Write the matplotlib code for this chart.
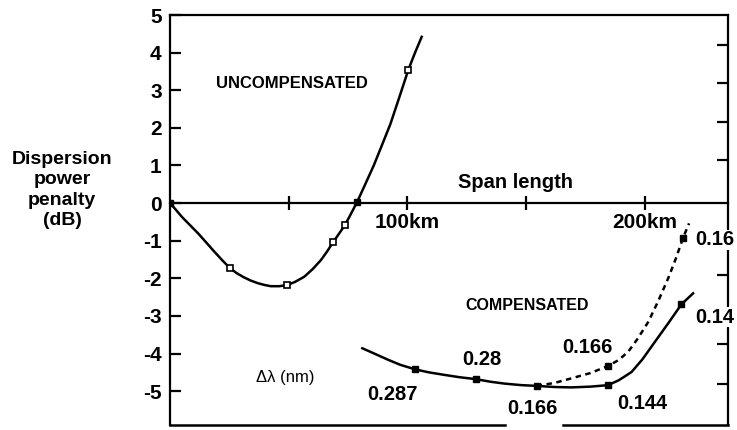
import matplotlib
matplotlib.use("Agg")
import matplotlib.pyplot as plt

plt.rcParams['font.family'] = ['Liberation Sans', 'DejaVu Sans']

# uncompensated curve (km, dB)
unc_x = [0, 2.5, 4.9, 8, 11.9, 15, 18.5, 22, 25.1, 28, 31, 34, 37, 40, 42.5, 46, 49.2, 52.5,
         56.5, 60, 63.5, 66, 68.8, 71, 73.6, 76, 78.8, 82, 85.8, 89, 92.8, 96.5, 100.4, 103.2, 106]
unc_y = [0, -0.18, -0.36, -0.56, -0.81, -1.03, -1.28, -1.52, -1.72, -1.86, -1.97, -2.06, -2.13,
         -2.18, -2.21, -2.21, -2.18, -2.1, -1.96, -1.76, -1.52, -1.3, -1.03, -0.83, -0.59, -0.31,
         0.03, 0.47, 1.0, 1.5, 2.1, 2.8, 3.55, 4.0, 4.42]
# measured points
unc_px = [25.1, 49.2, 68.8, 73.6, 100.4]
unc_py = [-1.72, -2.18, -1.03, -0.59, 3.55]
unc_fx = [0, 78.8]
unc_fy = [0, 0.03]

# compensated, solid
cs_x = [81, 86, 92, 97, 103.2, 109, 115.8, 122, 128.7, 135, 141, 148, 154.4, 162, 169, 177,
        184.5, 189, 194.4, 199, 204.2, 210, 215.4, 220.3]
cs_y = [-3.86, -4.0, -4.17, -4.3, -4.42, -4.5, -4.57, -4.63, -4.68, -4.75, -4.8, -4.84, -4.86,
        -4.89, -4.9, -4.88, -4.84, -4.71, -4.49, -4.15, -3.69, -3.18, -2.69, -2.4]
cs_px = [103.2, 128.7, 154.4, 184.5, 215.4]
cs_py = [-4.42, -4.68, -4.86, -4.84, -2.69]

# compensated, dashed
cd_x = [154.4, 162, 169, 177, 184.5, 189, 193, 197, 201.4, 205.5, 209.8, 213, 216.1, 218.6]
cd_y = [-4.86, -4.78, -4.66, -4.52, -4.33, -4.17, -3.95, -3.6, -3.16, -2.62, -2.0, -1.48,
        -0.92, -0.54]
cd_px = [184.5, 216.1]
cd_py = [-4.33, -0.92]

# delta-lambda labels
dl_text = ['0.287', '0.28', '0.166', '0.166', '0.144']
dl_x = [93.9, 131.4, 152.8, 176, 198.7]
dl_y = [-5.08, -4.15, -5.45, -3.83, -5.32]
edge_text = ['0.16', '0.14']
edge_y = [-0.98, -3.03]

yticks = [5, 4, 3, 2, 1, 0, -1, -2, -3, -4, -5]
right_ticks = [4.2, 3.2, 2.15, 1.15, -1.9, -3.75, -4.8]
xticks = [50, 100, 150, 200]
xlabels = ['', '100km', '', '200km']

fig = plt.figure(figsize=(7.37, 4.30), dpi=100)
ax = fig.add_axes([0.2307, 0.0116, 0.7571, 0.9535])
ax.set_xlim(0, 235)
ax.set_ylim(-5.9, 5)

lw = 1.8
ax.plot(unc_x, unc_y, color='black', lw=lw)
ax.plot(unc_px, unc_py, 's', ms=4.5, mfc='white', mec='black', mew=1.2)
ax.plot(unc_fx, unc_fy, 's', ms=5, color='black')
ax.plot(cs_x, cs_y, color='black', lw=lw)
ax.plot(cd_x, cd_y, color='black', lw=lw, ls=(0, (2.2, 1.8)))
ax.plot(cs_px, cs_py, 's', ms=5, color='black')
ax.plot(cd_px, cd_py, 's', ms=5, color='black')

# spines: bottom axis sits on zero
for s in ['left', 'right', 'top']:
    ax.spines[s].set_linewidth(1.6)
ax.spines['bottom'].set_position(('data', 0))
ax.spines['bottom'].set_linewidth(1.6)
ax.plot([0, 141], [-5.9, -5.9], color='black', lw=1.8, clip_on=False)
ax.plot([165.5, 235], [-5.9, -5.9], color='black', lw=1.8, clip_on=False)

ax.set_yticks(yticks)
ax.set_yticklabels([str(v) for v in yticks], fontsize=15, fontweight='bold')
ax.tick_params(axis='y', direction='in', length=8, width=1.6, pad=6)
ax.set_xticks(xticks)
ax.set_xticklabels(xlabels, fontsize=15, fontweight='bold')
ax.tick_params(axis='x', direction='inout', length=10, width=1.6, pad=2)

ax2 = ax.twinx()
ax2.set_ylim(ax.get_ylim())
ax2.set_yticks(right_ticks)
ax2.set_yticklabels([])
ax2.tick_params(axis='y', direction='in', length=8, width=1.6)
for s in ['left', 'top', 'bottom', 'right']:
    ax2.spines[s].set_visible(False)

ax.text(51.4, 3.19, 'UNCOMPENSATED', fontsize=12, fontweight='bold', ha='center', va='center')
ax.text(145.7, 0.56, 'Span length', fontsize=14.5, fontweight='bold', ha='center', va='center')
ax.text(150.3, -2.71, 'COMPENSATED', fontsize=11.5, fontweight='bold', ha='center', va='center')
ax.text(48.4, -4.63, '\u0394\u03bb (nm)', fontsize=12, ha='center', va='center')
for t, x, y in zip(dl_text, dl_x, dl_y):
    ax.text(x, y, t, fontsize=14.5, fontweight='bold', ha='center', va='center')
for t, y in zip(edge_text, edge_y):
    ax.text(221, y, t, fontsize=14.5, fontweight='bold', ha='left', va='center',
            bbox=dict(facecolor='white', edgecolor='none', pad=0.5), zorder=5)

fig.text(62 / 737, 1 - 190 / 430, 'Dispersion\npower\npenalty\n(dB)', fontsize=14,
         fontweight='bold', ha='center', va='center', linespacing=1.25)

fig.savefig('out.png', dpi=100)
